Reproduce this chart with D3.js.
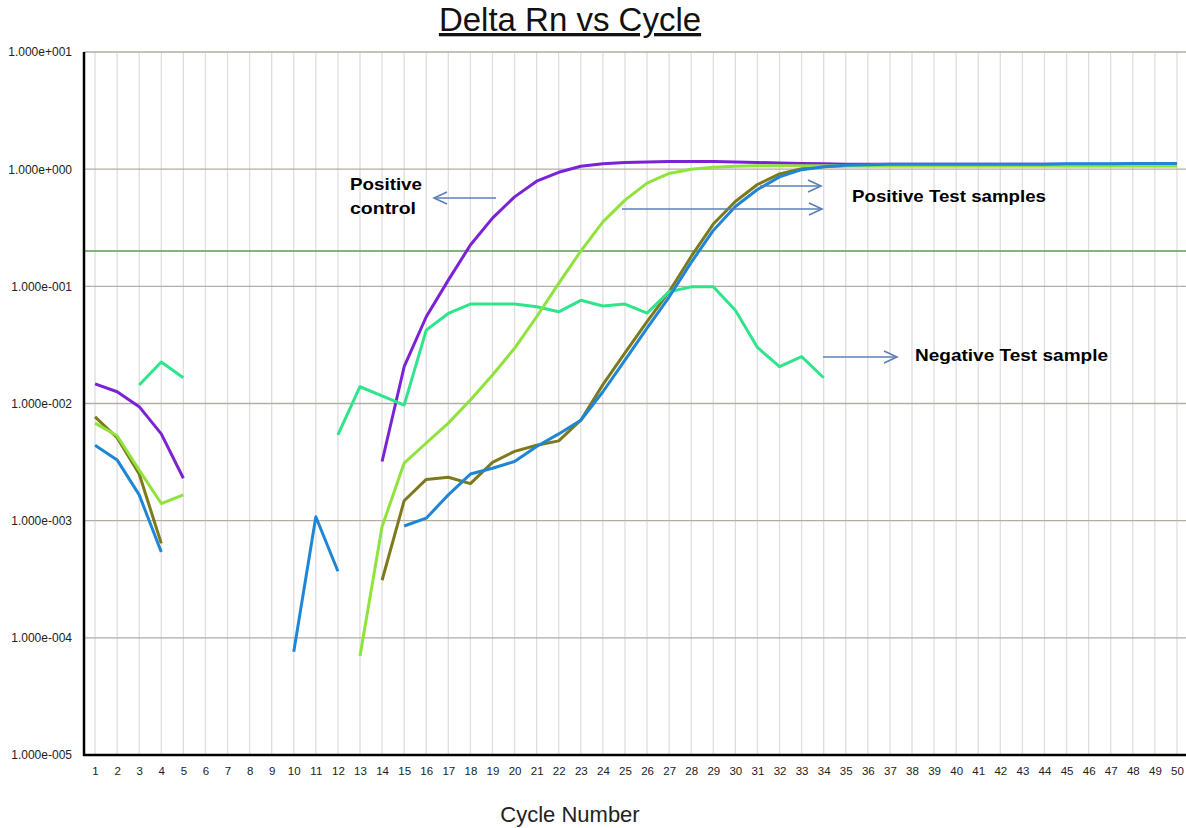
<!DOCTYPE html>
<html>
<head>
<meta charset="utf-8">
<script src="https://cdn.jsdelivr.net/npm/d3@7"></script>
<style>
  body { margin: 0; background: #fff; }
  svg { display: block; font-family: Arial, "Liberation Sans", sans-serif; }
</style>
</head>
<body>
<svg id="chart"></svg>
<script>
var w = 1186;
var h = 828;

// cycle numbers on the x axis
var cycles = d3.range(1, 51);
var yTicks = [1e1, 1e0, 1e-1, 1e-2, 1e-3, 1e-4, 1e-5];
var threshold = 0.2;

// delta Rn per cycle, null where the instrument drew nothing
var positiveControl = [0.0147, 0.0126, 0.0094, 0.0055, 0.0023,
  null, null, null, null, null, null, null, null,
  0.0032, 0.0206, 0.055, 0.113, 0.225, 0.382, 0.58, 0.79, 0.94, 1.06,
  1.11, 1.14, 1.15, 1.16, 1.16, 1.16, 1.15, 1.14, 1.13, 1.12,
  1.11, 1.10, 1.10, 1.10, 1.10, 1.10, 1.10, 1.10, 1.10, 1.10,
  1.10, 1.10, 1.10, 1.10, 1.10, 1.10, 1.10];

var sampleOlive = [0.0077, 0.0051, 0.0025, 0.00064,
  null, null, null, null, null, null, null, null, null,
  0.00031, 0.00148, 0.00225, 0.00235, 0.00207, 0.00314, 0.0039, 0.0044, 0.0048, 0.0072,
  0.0145, 0.027, 0.05, 0.09, 0.18, 0.34, 0.53, 0.74, 0.91, 1.01,
  1.05, 1.07, 1.07, 1.07, 1.07, 1.07, 1.07, 1.07, 1.07, 1.07,
  1.07, 1.07, 1.07, 1.07, 1.07, 1.07, 1.07];

var negativeSample = [null, null, 0.0144, 0.0226, 0.0166,
  null, null, null, null, null, null,
  0.0054, 0.0139, 0.0116, 0.0097, 0.0423, 0.0587, 0.0706, 0.0706, 0.0706, 0.067,
  0.0606, 0.076, 0.068, 0.0706, 0.059, 0.09, 0.099, 0.099, 0.0625, 0.0301,
  0.0206, 0.0251, 0.0166,
  null, null, null, null, null, null, null, null,
  null, null, null, null, null, null, null, null];

var sampleLime = [0.0068, 0.0053, 0.0027, 0.0014, 0.00166,
  null, null, null, null, null, null, null,
  0.00007, 0.00089, 0.0031, 0.0046, 0.0068, 0.0107, 0.0175, 0.0296, 0.055, 0.106,
  0.2, 0.355, 0.544, 0.76, 0.92, 1.0, 1.04, 1.06, 1.07, 1.07,
  1.07, 1.07, 1.07, 1.07, 1.07, 1.07, 1.07, 1.07, 1.07, 1.07,
  1.07, 1.07, 1.07, 1.07, 1.07, 1.07, 1.07, 1.07];

var sampleBlue = [0.0044, 0.0033, 0.00166, 0.00054,
  null, null, null, null, null,
  0.000076, 0.00108, 0.00037, null, null,
  0.0009, 0.00105, 0.00166, 0.0025, 0.0028, 0.0032, 0.0043, 0.0055, 0.0072,
  0.0126, 0.0235, 0.044, 0.081, 0.16, 0.30, 0.48, 0.67, 0.86, 0.99,
  1.05, 1.08, 1.09, 1.10, 1.10, 1.10, 1.10, 1.10, 1.10, 1.10,
  1.10, 1.11, 1.11, 1.11, 1.12, 1.12, 1.12];

var seriesList = [
  { values: positiveControl, color: "#7b22d6" },
  { values: sampleOlive, color: "#7d7a1e" },
  { values: negativeSample, color: "#2ee58c" },
  { values: sampleLime, color: "#8fe33c" },
  { values: sampleBlue, color: "#1f86d6" }
];

var svg = d3.select("#chart")
  .attr("width", w)
  .attr("height", h);

var x = d3.scaleLinear().domain([0.5, 50.5]).range([84, 1188]);
var y = d3.scaleLog().domain([1e-5, 1e1]).range([755, 52]);

function sci(v) {
  var e = Math.round(Math.log10(v));
  return "1.000e" + (e < 0 ? "-" : "+") + String(Math.abs(e)).padStart(3, "0");
}

// vertical grid, one per cycle
svg.append("g")
  .selectAll("line")
  .data(cycles)
  .join("line")
  .attr("x1", d => x(d)).attr("x2", d => x(d))
  .attr("y1", y(1e1)).attr("y2", y(1e-5))
  .attr("stroke", "#dedede")
  .attr("stroke-width", 1.3);

// horizontal grid at each decade
svg.append("g")
  .selectAll("line")
  .data(yTicks.slice(0, 6))
  .join("line")
  .attr("x1", x(0.5)).attr("x2", w)
  .attr("y1", d => y(d)).attr("y2", d => y(d))
  .attr("stroke", "#b3aea4")
  .attr("stroke-width", 1.3);

// threshold
svg.append("line")
  .attr("x1", x(0.5)).attr("x2", w)
  .attr("y1", y(threshold)).attr("y2", y(threshold))
  .attr("stroke", "#5e9a4c")
  .attr("stroke-width", 1.5);

var line = d3.line()
  .defined(d => d[1] != null)
  .x(d => x(d[0]))
  .y(d => y(d[1]));

seriesList.forEach(function(s) {
  svg.append("path")
    .datum(cycles.map((c, i) => [c, s.values[i]]))
    .attr("d", line)
    .attr("fill", "none")
    .attr("stroke", s.color)
    .attr("stroke-width", 3)
    .attr("stroke-linejoin", "round");
});

// axes
var yAxis = svg.append("g")
  .attr("transform", "translate(" + x(0.5) + ",0)")
  .call(d3.axisLeft(y).tickValues(yTicks).tickFormat(sci).tickSize(0).tickPadding(12));
yAxis.select(".domain").remove();
yAxis.selectAll("text")
  .attr("font-size", 12)
  .attr("font-family", "Arial, 'Liberation Sans', sans-serif")
  .attr("fill", "#222");

var xAxis = svg.append("g")
  .attr("transform", "translate(0," + y(1e-5) + ")")
  .call(d3.axisBottom(x).tickValues(cycles).tickFormat(d3.format("d")).tickSize(0).tickPadding(12));
xAxis.select(".domain").remove();
xAxis.selectAll("text")
  .attr("font-size", 11.5)
  .attr("font-family", "Arial, 'Liberation Sans', sans-serif")
  .attr("fill", "#222");

svg.append("line")
  .attr("x1", x(0.5)).attr("x2", x(0.5))
  .attr("y1", y(1e1)).attr("y2", y(1e-5) + 1)
  .attr("stroke", "#000").attr("stroke-width", 2.5);
svg.append("line")
  .attr("x1", x(0.5) - 1).attr("x2", w)
  .attr("y1", y(1e-5)).attr("y2", y(1e-5))
  .attr("stroke", "#000").attr("stroke-width", 2.5);

// title and axis title
svg.append("text")
  .attr("x", 570).attr("y", 31)
  .attr("text-anchor", "middle")
  .attr("font-size", 33)
  .attr("fill", "#111")
  .attr("text-decoration", "underline")
  .text("Delta Rn vs Cycle");

svg.append("text")
  .attr("x", 570).attr("y", 822)
  .attr("text-anchor", "middle")
  .attr("font-size", 22)
  .attr("fill", "#222")
  .text("Cycle Number");

// annotations
function arrow(x1, x2, yy) {
  var dir = x2 > x1 ? -1 : 1;
  var g = svg.append("g")
    .attr("stroke", "#5b7fb6")
    .attr("stroke-width", 1.6)
    .attr("fill", "none");
  g.append("line").attr("x1", x1).attr("x2", x2).attr("y1", yy).attr("y2", yy);
  g.append("polyline")
    .attr("points", [[x2 + dir * 13, yy - 6], [x2, yy], [x2 + dir * 13, yy + 6]].join(" "));
}

arrow(496, 434, 198);
arrow(760, 821, 186);
arrow(622, 822, 209);
arrow(823, 897, 357);

function note(tx, ty, str, len) {
  svg.append("text")
    .attr("x", tx).attr("y", ty)
    .attr("font-size", 17)
    .attr("font-weight", "bold")
    .attr("font-family", "'Liberation Sans', Arial, sans-serif")
    .attr("fill", "#000")
    .attr("textLength", len)
    .attr("lengthAdjust", "spacingAndGlyphs")
    .text(str);
}

note(350, 190, "Positive", 72);
note(350, 214, "control", 66);
note(852, 202, "Positive Test samples", 194);
note(915, 361, "Negative Test sample", 193);
</script>
</body>
</html>
